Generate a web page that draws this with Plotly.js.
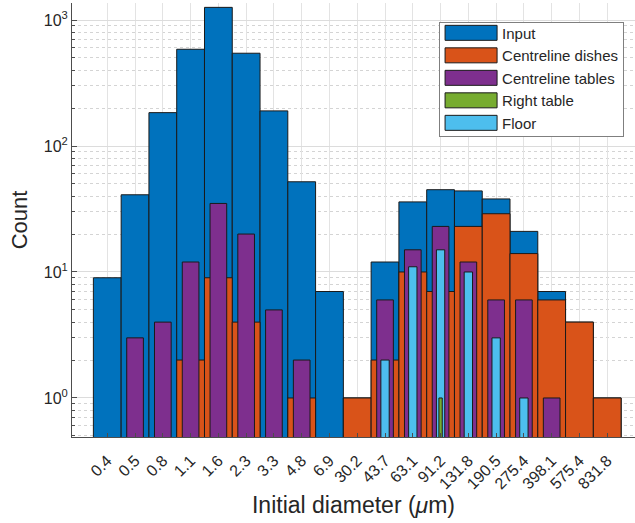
<!DOCTYPE html>
<html>
<head>
<meta charset="utf-8">
<script src="https://cdn.plot.ly/plotly-3.0.1.min.js"></script>
<style>
html,body{margin:0;padding:0;background:#fff;}
#chart{width:635px;height:523px;}
</style>
</head>
<body>
<div id="chart"></div>
<script>
const categories = ['0.4','0.5','0.8','1.1','1.6','2.3','3.3','4.8','6.9','30.2','43.7','63.1','91.2','131.8','190.5','275.4','398.1','575.4','831.8'];
const inputCounts      = [9, 41, 184, 586, 1260, 545, 190, 52, 7, 1, 12, 36, 45, 44, 38, 21, 7, 4, 1];
const dishesCounts     = [null, null, null, 2, 9, 4, null, 1, null, 1, 2, 10, 7, 23, 29, 14, 6, 4, 1];
const tablesCounts     = [null, 3, 4, 12, 35, 20, 5, 2, null, null, 6, 15, 23, 12, 6, 6, 1, null, null];
const rightTableCounts = [null, null, null, null, null, null, null, null, null, null, null, null, 1, null, null, null, null, null, null];
const floorCounts      = [null, null, null, null, null, null, null, null, null, null, 2, 11, 15, 10, 3, 1, null, null, null];
const yTickVals = [1, 10, 100, 1000];
const yTickText = ['10<sup>0</sup>', '10<sup>1</sup>', '10<sup>2</sup>', '10<sup>3</sup>'];

const edge = {color: '#1a1a1a', width: 1};
function barTrace(name, y, color, width, rank) {
  return {type: 'bar', name: name, x: categories, y: y, width: width,
    marker: {color: color, line: edge}, legendrank: rank, hoverinfo: 'x+y+name'};
}
const traces = [
  barTrace('Input', inputCounts, '#0072BD', 1, 1),
  barTrace('Centreline dishes', dishesCounts, '#D95319', 1, 2),
  barTrace('Centreline tables', tablesCounts, '#7E2F8E', 0.6, 3),
  barTrace('Floor', floorCounts, '#4DBEEE', 0.3, 5),
  barTrace('Right table', rightTableCounts, '#77AC30', 0.12, 4)
];

const minorVals = [];
for (let d = -1; d <= 3; d++) {
  for (let m = 2; m <= 9; m++) minorVals.push(m * Math.pow(10, d));
}

const font = {family: 'Liberation Sans, Arial, sans-serif', color: '#262626'};
const layout = {
  width: 635, height: 523,
  margin: {l: 72, r: 0, t: 3, b: 86},
  paper_bgcolor: '#fff', plot_bgcolor: '#fff',
  barmode: 'overlay', bargap: 0,
  font: Object.assign({size: 15}, font),
  showlegend: true,
  legend: {x: 0.652, y: 0.971, xanchor: 'left', yanchor: 'top',
    bgcolor: '#fff', bordercolor: '#7f7f7f', borderwidth: 1,
    font: Object.assign({size: 15}, font), itemwidth: 52, traceorder: 'normal'},
  xaxis: {type: 'category', range: [-1.27, 19], tickangle: -45,
    tickfont: Object.assign({size: 16}, font), ticklabelstandoff: 7,
    showgrid: true, gridcolor: '#e3e3e3', gridwidth: 1,
    ticks: 'inside', ticklen: 4, tickcolor: '#4d4d4d',
    showline: true, linecolor: '#4d4d4d', linewidth: 1, mirror: false,
    zeroline: false,
    title: {text: 'Initial diameter (<i>μ</i>m)', font: Object.assign({size: 23}, font), standoff: 4}},
  yaxis: {type: 'log', range: [Math.log10(0.49), 3.135],
    tickvals: yTickVals, ticktext: yTickText,
    tickfont: Object.assign({size: 16}, font),
    showgrid: true, gridcolor: '#dcdcdc', gridwidth: 1,
    ticks: 'inside', ticklen: 5, tickcolor: '#4d4d4d',
    showline: true, linecolor: '#4d4d4d', linewidth: 1,
    zeroline: false,
    minor: {tickvals: minorVals, showgrid: true, gridcolor: '#d4d4d4', griddash: 'dot', gridwidth: 1,
      ticks: 'inside', ticklen: 3, tickcolor: '#4d4d4d'},
    title: {text: 'Count', font: Object.assign({size: 22}, font), standoff: 10}}
};

Plotly.newPlot('chart', traces, layout, {displayModeBar: false, staticPlot: true}).then(function(gd) {
  gd.querySelectorAll('.legend .legendpoints path').forEach(function(p) {
    p.setAttribute('d', 'M26,7.5H-26V-7.5H26Z');
  });
  const bg = gd.querySelector('.legend rect.bg');
  if (bg) {
    const y = parseFloat(bg.getAttribute('y') || 0);
    const h = parseFloat(bg.getAttribute('height'));
    bg.setAttribute('y', y + 6);
    bg.setAttribute('height', h - 10);
  }
});
</script>
</body>
</html>
